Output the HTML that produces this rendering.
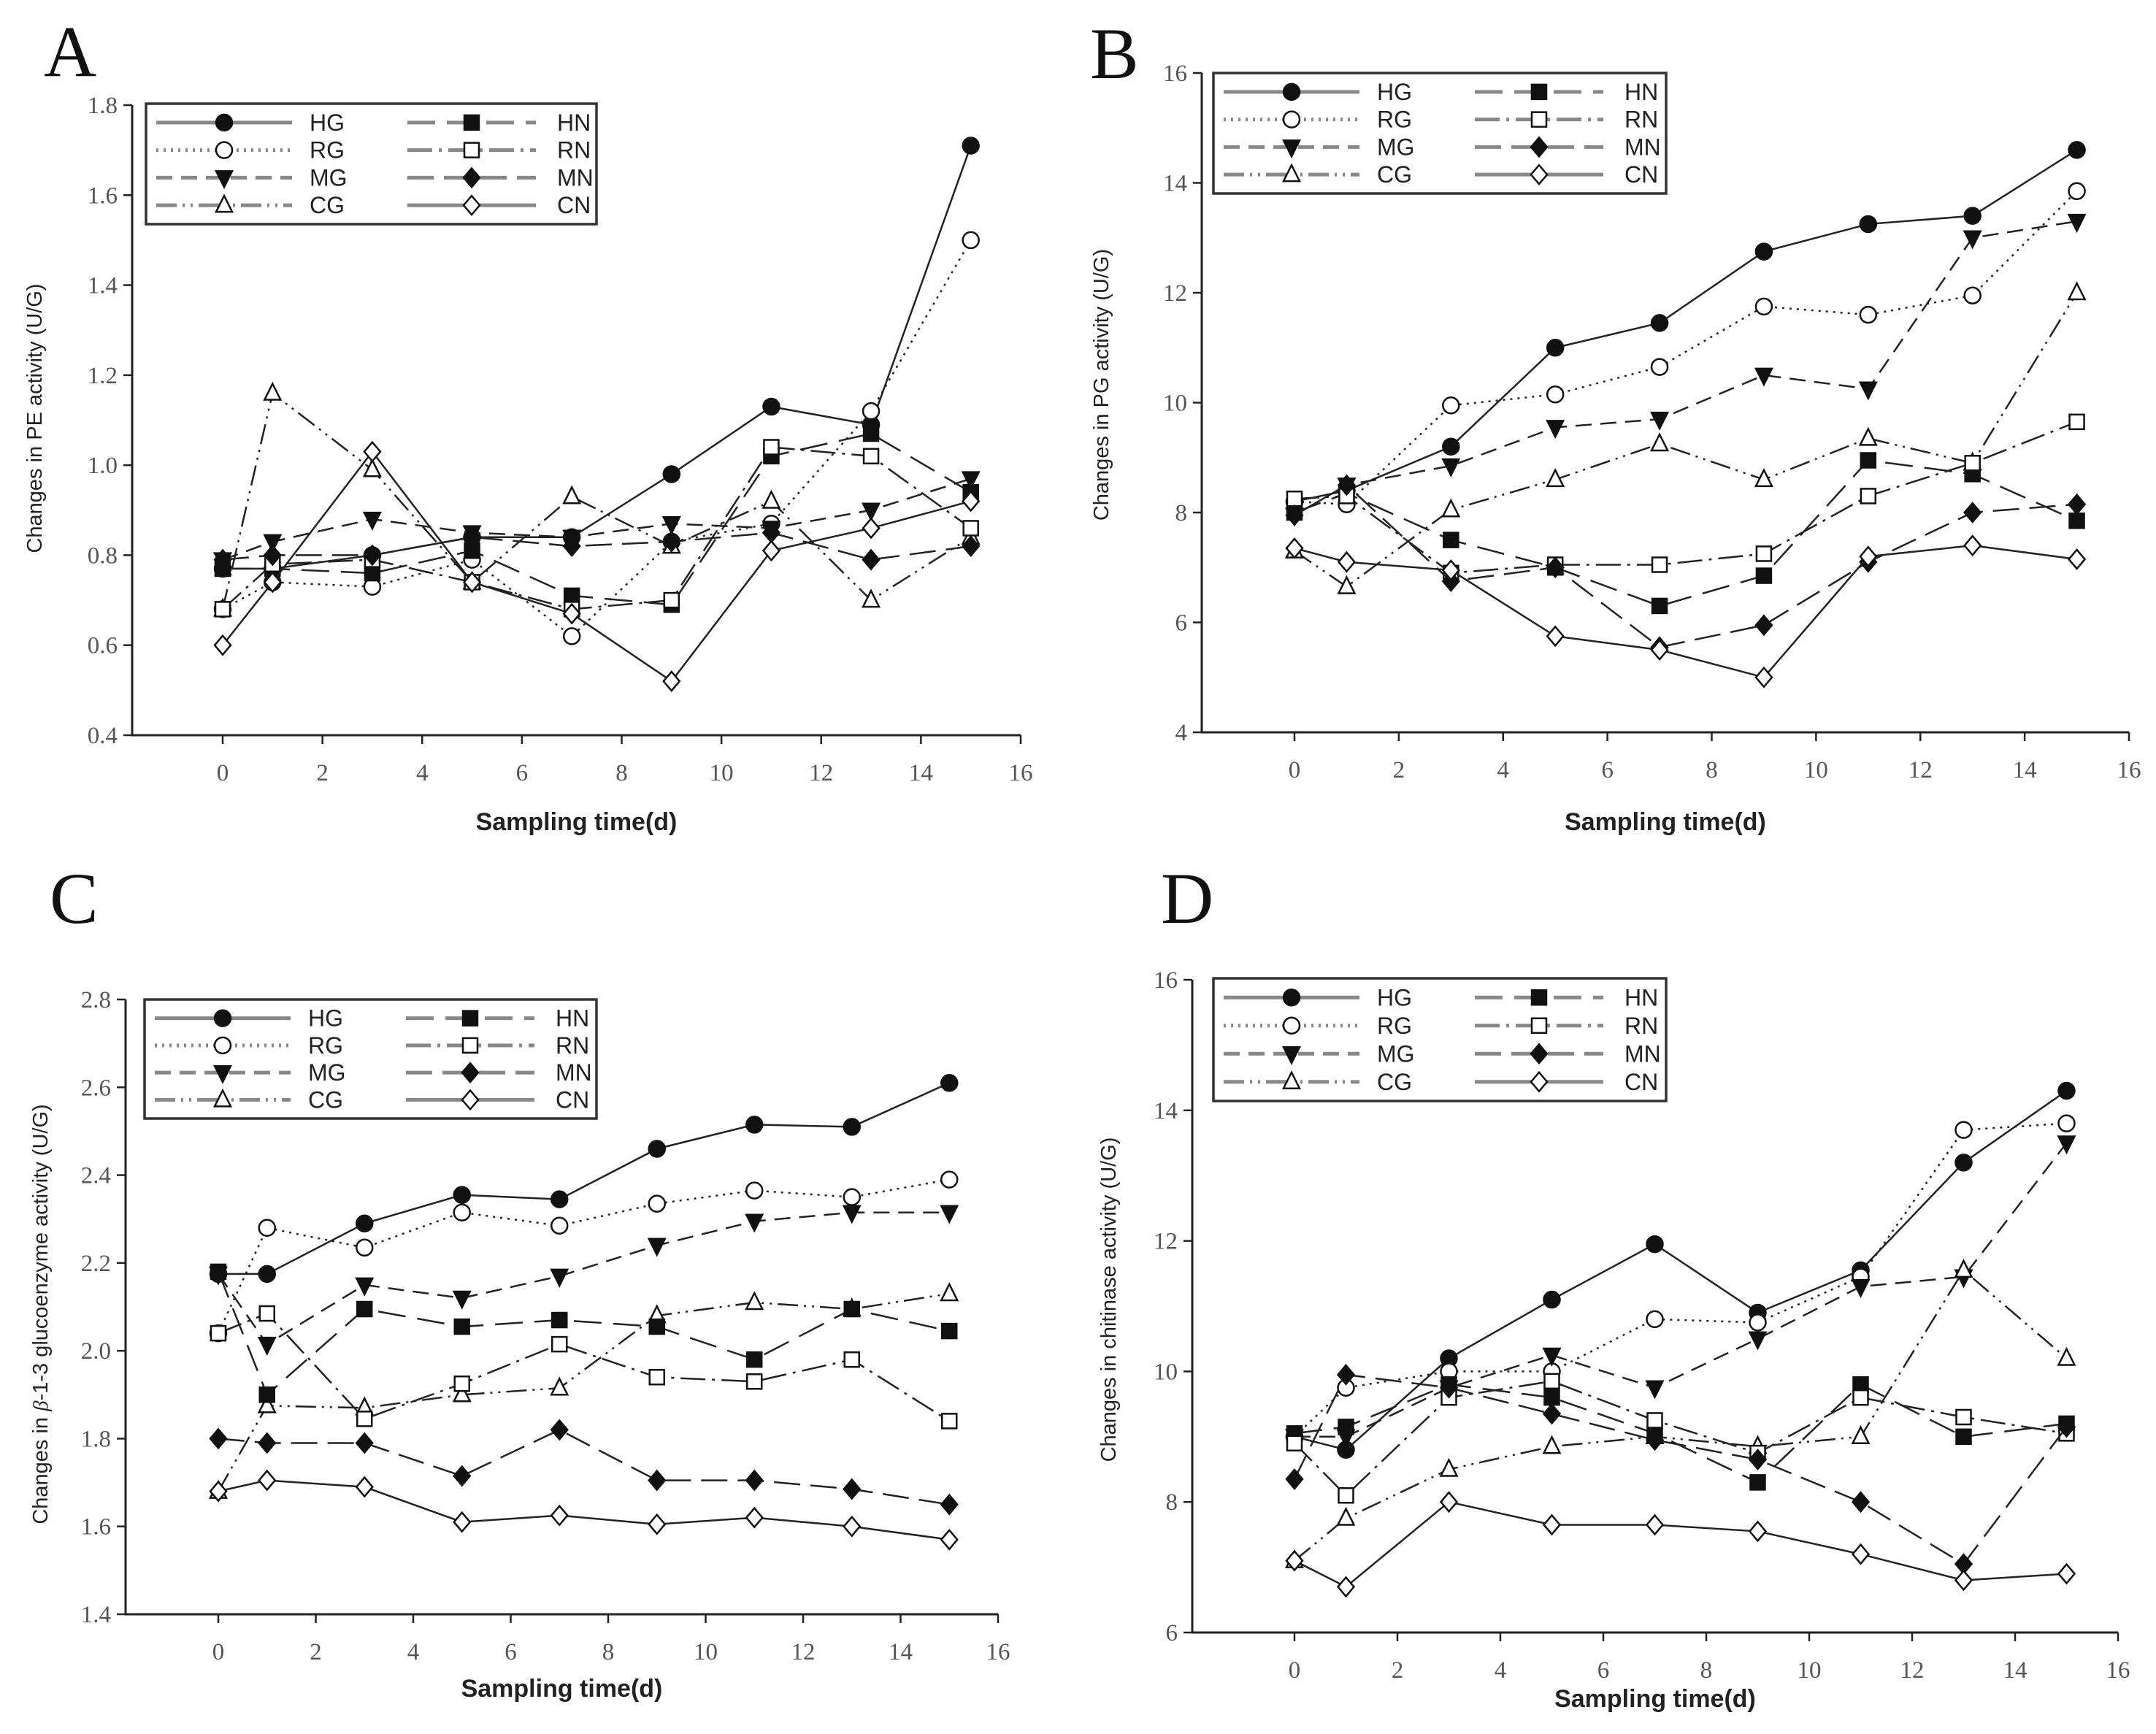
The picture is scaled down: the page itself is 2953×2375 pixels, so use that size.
<!DOCTYPE html>
<html><head><meta charset="utf-8"><style>
html,body{margin:0;padding:0;background:#fff;overflow:hidden;}
svg{display:block;}
</style></head><body>
<svg id="fig" xmlns="http://www.w3.org/2000/svg" width="2953" height="2375" viewBox="0 0 2953 2375"></svg>
<script>
const days = [0,1,3,5,7,9,11,13,15];
const seriesNames = ["HG","RG","MG","CG","HN","RN","MN","CN"];
const xTicks = [0,2,4,6,8,10,12,14,16];

const aHG=[0.77,0.77,0.80,0.84,0.84,0.98,1.13,1.09,1.71];
const aRG=[0.68,0.74,0.73,0.79,0.62,0.83,0.87,1.12,1.50];
const aMG=[0.79,0.83,0.88,0.85,0.84,0.87,0.86,0.90,0.97];
const aCG=[0.68,1.16,0.99,0.74,0.93,0.82,0.92,0.70,0.84];
const aHN=[0.77,0.77,0.76,0.81,0.71,0.69,1.02,1.07,0.94];
const aRN=[0.68,0.78,0.79,0.74,0.68,0.70,1.04,1.02,0.86];
const aMN=[0.79,0.80,0.80,0.84,0.82,0.83,0.85,0.79,0.82];
const aCN=[0.60,0.74,1.03,0.74,0.67,0.52,0.81,0.86,0.92];
const aTicks=["0.4","0.6","0.8","1.0","1.2","1.4","1.6","1.8"];

const bHG=[8.2,8.4,9.2,11.0,11.45,12.75,13.25,13.4,14.6];
const bRG=[8.2,8.15,9.95,10.15,10.65,11.75,11.6,11.95,13.85];
const bMG=[7.95,8.5,8.85,9.55,9.7,10.5,10.25,13.0,13.3];
const bCG=[7.3,6.65,8.05,8.6,9.25,8.6,9.35,8.9,12.0];
const bHN=[8.0,8.35,7.5,7.0,6.3,6.85,8.95,8.7,7.85];
const bRN=[8.25,8.3,6.9,7.05,7.05,7.25,8.3,8.9,9.65];
const bMN=[7.95,8.5,6.75,7.0,5.55,5.95,7.1,8.0,8.15];
const bCN=[7.35,7.1,6.95,5.75,5.5,5.0,7.2,7.4,7.15];
const bTicks=["4","6","8","10","12","14","16"];

const cHG=[2.175,2.175,2.29,2.355,2.345,2.46,2.515,2.51,2.61];
const cRG=[2.04,2.28,2.235,2.315,2.285,2.335,2.365,2.35,2.39];
const cMG=[2.175,2.015,2.15,2.12,2.17,2.24,2.295,2.315,2.315];
const cCG=[1.68,1.875,1.87,1.90,1.915,2.08,2.11,2.095,2.13];
const cHN=[2.18,1.90,2.095,2.055,2.07,2.055,1.98,2.095,2.045];
const cRN=[2.04,2.085,1.845,1.925,2.015,1.94,1.93,1.98,1.84];
const cMN=[1.80,1.79,1.79,1.715,1.82,1.705,1.705,1.685,1.65];
const cCN=[1.68,1.705,1.69,1.61,1.625,1.605,1.62,1.60,1.57];
const cTicks=["1.4","1.6","1.8","2.0","2.2","2.4","2.6","2.8"];

const dHG=[9.0,8.8,10.2,11.1,11.95,10.9,11.55,13.2,14.3];
const dRG=[9.0,9.75,10.0,10.0,10.8,10.75,11.45,13.7,13.8];
const dMG=[9.0,9.0,9.75,10.25,9.75,10.5,11.3,11.45,13.5];
const dCG=[7.1,7.75,8.5,8.85,9.0,8.85,9.0,11.55,10.2];
const dHN=[9.05,9.15,9.8,9.6,9.05,8.3,9.8,9.0,9.2];
const dRN=[8.9,8.1,9.6,9.85,9.25,8.75,9.6,9.3,9.05];
const dMN=[8.35,9.95,9.75,9.35,8.95,8.65,8.0,7.05,9.15];
const dCN=[7.1,6.7,8.0,7.65,7.65,7.55,7.2,6.8,6.9];
const dTicks=["6","8","10","12","14","16"];

const NS="http://www.w3.org/2000/svg";
const svg=document.getElementById('fig');
function mk(tag,attrs,parent){const e=document.createElementNS(NS,tag);for(const k in attrs)e.setAttribute(k,attrs[k]);(parent||svg).appendChild(e);return e;}

const styles={
 HG:{dash:"",marker:"circle",fill:"#111"},
 RG:{dash:"3 7",marker:"circle",fill:"#fff"},
 MG:{dash:"22 12",marker:"tri-down",fill:"#111"},
 CG:{dash:"28 8 3 8 3 8",marker:"tri-up",fill:"#fff"},
 HN:{dash:"38 16",marker:"square",fill:"#111"},
 RN:{dash:"34 9 4 9",marker:"square",fill:"#fff"},
 MN:{dash:"36 14",marker:"diamond",fill:"#111"},
 CN:{dash:"",marker:"diamond",fill:"#fff"}
};

function marker(g,type,x,y,fill){
  const s=11;let e;
  const a={fill:fill,stroke:"#111","stroke-width":2.5};
  if(type==="circle"){e=mk('circle',Object.assign({cx:x,cy:y,r:s},a),g);}
  else if(type==="square"){e=mk('rect',Object.assign({x:x-s+1,y:y-s+1,width:2*s-2,height:2*s-2},a),g);}
  else if(type==="tri-down"){e=mk('polygon',Object.assign({points:`${x-s},${y-s+2} ${x+s},${y-s+2} ${x},${y+s+2}`},a),g);}
  else if(type==="tri-up"){e=mk('polygon',Object.assign({points:`${x-s},${y+s-2} ${x+s},${y+s-2} ${x},${y-s-2}`},a),g);}
  else {e=mk('polygon',Object.assign({points:`${x},${y-s-2} ${x+s},${y} ${x},${y+s+2} ${x-s},${y}`},a),g);}
  return e;
}

function panel(cfg){
  const g=mk('g',{});
  
  
  const X=v=>cfg.x0+(cfg.x16-cfg.x0)*v/16;
  const Y=v=>cfg.yb+(cfg.yt-cfg.yb)*(v-cfg.ymin)/(cfg.ymax-cfg.ymin);
  const lt=mk('text',{x:cfg.lx,y:cfg.ly,"font-family":"Liberation Serif, serif","font-size":100,fill:"#111"},g);
  lt.textContent=cfg.letter;
  
  
  const ax=mk('g',{},g);
  
  
  mk('line',{x1:cfg.ax,y1:Y(cfg.ymax),x2:cfg.ax,y2:cfg.yb+1.5,stroke:"#222","stroke-width":3},ax);
  mk('line',{x1:cfg.ax-1.5,y1:cfg.yb,x2:X(16),y2:cfg.yb,stroke:"#222","stroke-width":3},ax);
  xTicks.forEach(t=>{
    mk('line',{x1:X(t),y1:cfg.yb,x2:X(t),y2:cfg.yb+12,stroke:"#222","stroke-width":2.5},ax);
    const tx=mk('text',{x:X(t),y:cfg.yb+62,"text-anchor":"middle","font-family":"Liberation Serif, serif","font-size":33,fill:"#555"},ax);
    tx.textContent=t;
    
    
  });
  cfg.ticks.forEach(t=>{
    const v=parseFloat(t);
    mk('line',{x1:cfg.ax-12,y1:Y(v),x2:cfg.ax,y2:Y(v),stroke:"#222","stroke-width":2.5},ax);
    const ty=mk('text',{x:cfg.ax-20,y:Y(v)+11,"text-anchor":"end","font-family":"Liberation Serif, serif","font-size":33,fill:"#555"},ax);
    ty.textContent=t;
    
    
  });
  const xt=mk('text',{x:(cfg.ax+X(16))/2,y:cfg.xty,"text-anchor":"middle","font-family":"Liberation Sans, sans-serif","font-size":34,"font-weight":"bold",fill:"#222"},g);
  xt.textContent="Sampling time(d)";
  
  
  const yt=mk('text',{x:0,y:0,transform:`translate(${cfg.ytx},${cfg.yty}) rotate(-90)`,"text-anchor":"middle","font-family":"Liberation Sans, sans-serif","font-size":29,fill:"#222"},g);
  yt.innerHTML=cfg.ytitle;
  
  
  seriesNames.forEach(n=>{
    const vals=cfg.data[n];const st=styles[n];
    const sg=mk('g',{},g);
    
    
    const pts=days.map((d,i)=>X(d)+","+Y(vals[i])).join(" ");
    const pl=mk('polyline',{points:pts,fill:"none",stroke:"#222","stroke-width":2.5,"stroke-dasharray":st.dash},sg);
    
    
    days.forEach((d,i)=>{
      const m=marker(sg,st.marker,X(d),Y(vals[i]),st.fill);
      
      
    });
  });
  const L=cfg.leg;
  const lg=mk('g',{},g);
  
  
  mk('rect',{x:L.x,y:L.y,width:L.w,height:L.h,fill:"#fff",stroke:"#333","stroke-width":3.5},lg);
  const rowH=(L.h-14)/4;
  seriesNames.forEach((n,i)=>{
    const col=Math.floor(i/4),row=i%4;
    const st=styles[n];
    const cy=L.y+7+rowH*(row+0.5);
    const x1=L.x+(col===0?14:358), x2=L.x+(col===0?200:534);
    const e=mk('g',{},lg);
    
    
    mk('line',{x1:x1,y1:cy,x2:x2,y2:cy,stroke:"#888","stroke-width":5,"stroke-dasharray":st.dash},e);
    marker(e,st.marker,(x1+x2)/2,cy,st.fill);
    const t=mk('text',{x:L.x+(col===0?224:563),y:cy+11,"font-family":"Liberation Sans, sans-serif","font-size":32,fill:"#222"},e);
    t.textContent=n;
  });
}

function dataOf(p){const o={};const src={a:[aHG,aRG,aMG,aCG,aHN,aRN,aMN,aCN],b:[bHG,bRG,bMG,bCG,bHN,bRN,bMN,bCN],c:[cHG,cRG,cMG,cCG,cHN,cRN,cMN,cCN],d:[dHG,dRG,dMG,dCG,dHN,dRN,dMN,dCN]}[p];seriesNames.forEach((n,i)=>o[n]=src[i]);return o;}

panel({letter:"A",lx:60,ly:104,ax:181,x0:305,x16:1398,yb:1007,yt:144,ymin:0.4,ymax:1.8,ticks:aTicks,data:dataOf('a'),
  xty:1137,ytx:57,yty:573,ytitle:"Changes in PE activity (U/G)",leg:{x:200,y:142,w:617,h:165}});
panel({letter:"B",lx:1493,ly:107,ax:1646,x0:1773,x16:2916,yb:1003,yt:100,ymin:4,ymax:16,ticks:bTicks,data:dataOf('b'),
  xty:1137,ytx:1518,yty:527,ytitle:"Changes in PG activity (U/G)",leg:{x:1662,y:100,w:620,h:165}});
panel({letter:"C",lx:68,ly:1264,ax:172,x0:299,x16:1367,yb:2211,yt:1369,ymin:1.4,ymax:2.8,ticks:cTicks,data:dataOf('c'),
  xty:2324,ytx:65,yty:1800,ytitle:"Changes in  <tspan font-family='Liberation Serif, serif' font-style='italic'>β</tspan>-1-3 glucoenzyme activity (U/G)",leg:{x:198,y:1369,w:619,h:163}});
panel({letter:"D",lx:1590,ly:1264,ax:1633,x0:1773,x16:2901,yb:2236,yt:1342,ymin:6,ymax:16,ticks:dTicks,data:dataOf('d'),
  xty:2338,ytx:1528,yty:1780,ytitle:"Changes in chitinase activity (U/G)",leg:{x:1662,y:1340,w:620,h:168}});
</script>
</body></html>
